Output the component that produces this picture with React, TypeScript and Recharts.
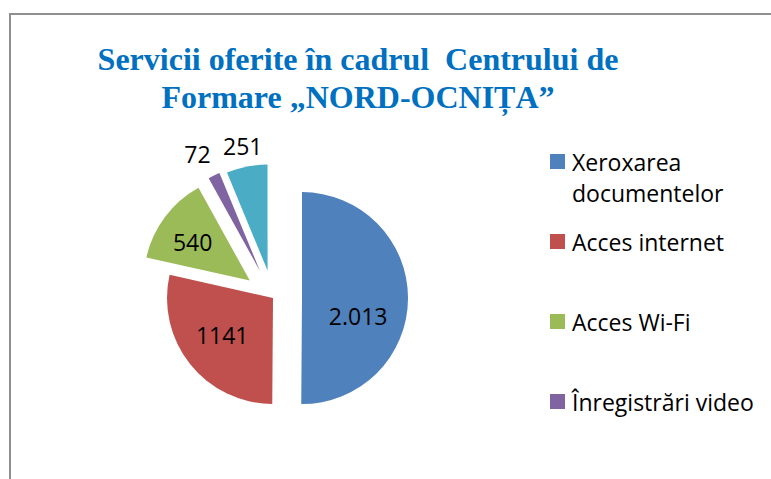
import React from 'react';
import { PieChart, Pie, Cell } from 'recharts';

// ---- data ----
const categories = ['Xeroxarea documentelor', 'Acces internet', 'Acces Wi-Fi', 'Înregistrări video', 'Alte servicii'];
const values = [2013, 1141, 540, 72, 251];
const valueLabels = ['2.013', '1141', '540', '72', '251'];
const titleLines = ['Servicii oferite în cadrul  Centrului de', 'Formare „NORD-OCNIȚA”'];

// ---- styles ----
const colors = ['#4F81BD', '#C0504D', '#9BBB59', '#8064A2', '#4BACC6'];
const explode = [29, 0, 29, 30, 28];
const labelRadius = [0.53, 0.6, 0.65, 1.25, 1.2];
const labelDx = [0, -1, -2, -5, 0];
const labelDy = [18, -3, 3, 2, 0];

const W = 771;
const H = 479;
const CX = 273;
const CY = 298;
const R = 106;
const RAD = Math.PI / 180;
const LEGEND_TOP = 162;
const LEGEND_STEP = 80;
const LEGEND_LIMIT = 450;

const data = categories.map((name, i) => ({ name, value: values[i] }));
const total = values.reduce((a, b) => a + b, 0);
const midAngles = values.map((v, i) => {
  const before = values.slice(0, i).reduce((a, b) => a + b, 0);
  return (360 * (before + v / 2)) / total; // clockwise from 12 o'clock
});

const labelFont = '"Open Sans", sans-serif';

function makeLabel(slice: number) {
  return (props: any) => {
    if (props.index !== slice) return null;
    const { cx, cy, midAngle, outerRadius } = props;
    const r = outerRadius * labelRadius[slice];
    const x = cx + r * Math.cos(-midAngle * RAD) + labelDx[slice];
    const y = cy + r * Math.sin(-midAngle * RAD) + labelDy[slice];
    return (
      <text
        x={x}
        y={y}
        textAnchor="middle"
        dominantBaseline="central"
        fill="#000"
        fontSize={23}
        fontFamily={labelFont}
      >
        {valueLabels[slice]}
      </text>
    );
  };
}

export default function App() {
  return (
    <div style={{ position: 'absolute', left: 0, top: 0, width: W, height: H, overflow: 'hidden', background: '#fff' }}>
      <div
        style={{
          position: 'absolute',
          left: 9,
          top: 13,
          width: W,
          height: H,
          borderLeft: '2px solid #8f8f8f',
          borderTop: '2px solid #8f8f8f',
        }}
      />
      <div
        style={{
          position: 'absolute',
          left: 0,
          top: 40,
          width: 716,
          textAlign: 'center',
          fontFamily: '"Liberation Serif", "Times New Roman", serif',
          fontWeight: 'bold',
          fontSize: 32,
          lineHeight: '38px',
          color: '#0070C0',
          whiteSpace: 'pre',
        }}
      >
        {titleLines.map((t, i) => (
          <div key={i}>{t}</div>
        ))}
      </div>
      <div style={{ position: 'absolute', left: 0, top: 0 }}>
        <PieChart width={W} height={H} margin={{ top: 0, right: 0, bottom: 0, left: 0 }}>
          {values.map((_, i) => {
            const ox = explode[i] * Math.sin(midAngles[i] * RAD);
            const oy = -explode[i] * Math.cos(midAngles[i] * RAD);
            return (
              <Pie
                key={i}
                data={data}
                dataKey="value"
                nameKey="name"
                cx={CX + ox}
                cy={CY + oy}
                outerRadius={R}
                innerRadius={0}
                startAngle={90}
                endAngle={-270}
                stroke="none"
                isAnimationActive={false}
                labelLine={false}
                label={makeLabel(i)}
              >
                {data.map((_, j) => (
                  <Cell key={j} fill={j === i ? colors[j] : 'none'} stroke="none" />
                ))}
              </Pie>
            );
          })}
        </PieChart>
      </div>
      <div style={{ position: 'absolute', left: 540, top: 140, width: 231, height: 320 }}>
        {categories.map((c, i) => {
          const center = LEGEND_TOP + LEGEND_STEP * i;
          if (center > LEGEND_LIMIT) return null;
          const local = center - 140;
          return (
            <div key={i}>
              <div
                style={{
                  position: 'absolute',
                  left: 10,
                  top: local - 8,
                  width: 15,
                  height: 15,
                  background: colors[i],
                }}
              />
              <div
                style={{
                  position: 'absolute',
                  left: 32,
                  top: local - 15.5,
                  width: 199,
                  fontFamily: labelFont,
                  fontSize: 23,
                  lineHeight: '31px',
                  color: '#000',
                }}
              >
                {c}
              </div>
            </div>
          );
        })}
      </div>
    </div>
  );
}
